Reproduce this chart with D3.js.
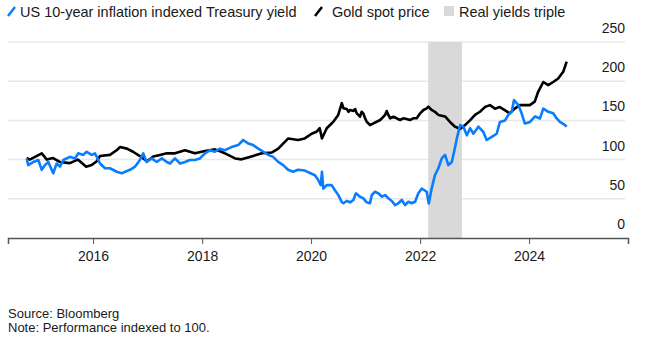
<!DOCTYPE html>
<html>
<head>
  <meta charset="utf-8">
  <title>Gold vs real yields</title>
  <script type="text/javascript" src="https://cdn.jsdelivr.net/npm/d3@7"></script>
  <style type="text/css">
    body {
      margin: 0px;
      background: #fff;
      font-family: "Liberation Sans", Arial, sans-serif;
    }
  </style>
</head>
<body>
  <svg width="652" height="345"></svg>
  <script type="text/javascript">
    // US 10-year inflation indexed Treasury yield, indexed to 100
    var yieldDates = ["2014-10-13","2014-10-24","2014-11-27","2014-12-30","2015-01-22","2015-02-13","2015-03-07","2015-04-09","2015-05-02","2015-05-24","2015-06-16","2015-07-30","2015-09-02","2015-09-24","2015-10-27","2015-11-19","2015-12-22","2016-01-14","2016-02-17","2016-03-21","2016-04-23","2016-06-08","2016-07-11","2016-08-03","2016-09-05","2016-10-08","2016-11-10","2016-12-02","2016-12-25","2017-01-28","2017-03-03","2017-04-06","2017-05-09","2017-05-31","2017-07-03","2017-08-06","2017-09-08","2017-10-11","2017-11-14","2017-12-17","2018-01-20","2018-02-23","2018-03-28","2018-04-30","2018-06-03","2018-07-17","2018-08-31","2018-10-03","2018-11-06","2018-12-09","2019-01-12","2019-02-15","2019-03-20","2019-04-22","2019-05-26","2019-06-28","2019-07-31","2019-09-03","2019-10-06","2019-11-20","2020-01-05","2020-01-27","2020-02-18","2020-03-06","2020-03-14","2020-03-23","2020-04-15","2020-05-18","2020-06-09","2020-07-01","2020-07-24",
      "2020-08-05","2020-08-27","2020-09-19","2020-10-11","2020-10-22","2020-10-28","2020-11-24","2020-12-16","2021-01-08","2021-01-30","2021-02-11","2021-03-05","2021-03-27","2021-04-20","2021-05-11","2021-06-02","2021-06-25","2021-07-17","2021-08-08","2021-08-31","2021-09-22","2021-10-14","2021-11-05","2021-11-28","2021-12-20",
      "2022-01-12","2022-02-14","2022-02-28","2022-03-19","2022-04-10","2022-05-03","2022-05-26","2022-06-17","2022-07-09","2022-08-01","2022-08-12","2022-09-04","2022-09-26","2022-10-18","2022-11-10","2022-12-02","2022-12-24","2023-01-26","2023-02-28","2023-03-23","2023-04-26","2023-05-29","2023-06-20","2023-07-24","2023-08-15","2023-09-07","2023-09-22","2023-10-21","2023-11-12","2023-12-04","2024-01-07","2024-02-10","2024-03-14","2024-04-05","2024-05-09","2024-06-11","2024-07-04","2024-07-26","2024-08-29","2024-09-09"];
    var yieldValues = [101.5,93,97,99.5,87,93,97,82.5,95,91,99.5,103.5,101.5,108,106,110,106,108,95,89,89,84.5,82.5,84.5,87,91,99.5,108,97,101.5,97,101.5,97,95,101.5,95,97,99.5,99.5,101.5,108,112,110,114,112,116,118.5,125,120.5,118.5,114,110,106,103.5,97,93,87,84.5,87,86,82,80,74,67.5,84.5,63,67.5,67.5,61,55,46,
      44.3,47.2,45.5,48.5,54.8,57,52.7,50.6,45.5,44.3,54.8,59,57,52.7,54.8,50.6,47.2,42,44.3,48.5,42,46.3,44.3,46.3,57,
      63,59,44,63,80,89,101.5,106,93,97,106,127,144,142,131,140,133,142,135.5,125,129,133,148,150,157,161,176,169.5,159,146,148,155,152.5,165,161,159,152.5,148,144,142];

    // Gold spot price, indexed to 100
    var goldDates = ["2014-10-13","2014-11-03","2015-01-22","2015-02-25","2015-04-08","2015-05-23","2015-07-29","2015-09-21","2015-11-16","2015-12-23","2016-01-26","2016-02-17","2016-04-23","2016-06-07","2016-07-01","2016-08-15","2016-09-25","2016-11-10","2016-12-27","2017-02-07","2017-03-25","2017-05-09","2017-07-03","2017-09-08","2017-11-14","2018-01-20","2018-03-28","2018-06-03","2018-08-10","2018-09-23","2018-11-28","2019-02-05","2019-04-12","2019-05-26","2019-08-01","2019-10-06","2019-11-20","2020-01-05","2020-02-06","2020-02-28","2020-03-14","2020-04-15","2020-05-28","2020-07-01","2020-07-25",
      "2020-08-05","2020-08-27","2020-09-08","2020-09-19","2020-10-11","2020-10-22","2020-11-02","2020-11-13","2020-11-24","2020-12-05","2020-12-16","2020-12-28","2021-01-08","2021-01-30","2021-02-22","2021-03-16","2021-04-08","2021-04-20","2021-05-11","2021-05-22","2021-06-02","2021-06-14","2021-07-06","2021-07-28","2021-08-19","2021-09-10","2021-10-02","2021-10-25","2021-11-16","2021-12-09","2022-01-01","2022-01-23","2022-02-14","2022-02-25","2022-03-19","2022-04-10","2022-05-03",
      "2022-06-17","2022-07-20","2022-08-23","2022-09-25","2022-10-29","2022-12-01","2023-01-04","2023-02-06","2023-03-11","2023-04-14","2023-05-17","2023-06-19","2023-07-22","2023-08-24","2023-09-27","2023-10-30","2023-12-03","2024-01-06","2024-02-08","2024-03-02","2024-04-05","2024-05-08","2024-06-11","2024-07-14","2024-08-17","2024-09-09"];
    var goldValues = [102,100,108,100,102,97,95.5,100,91,93,98,104.5,106,112,116,114,110,104.5,98,104,106,108,108,112,108,111,113,108,101.5,100.3,104,108,109,114,127,125,127,133,135.5,140,127,140,148,157,172,
      165.4,164.5,161,163.3,162,164.5,159,157,154.7,161,159,152.7,148.3,144,146.3,148.3,150.5,152.7,157,162,157,152.7,154.7,152.7,150.5,152.7,151.8,150.5,152.7,152.7,159,163.3,165.4,167.5,163.3,161,157,
      155,148,142,139,144,150,157,161,167,169.5,165,167,163,159,165,169.5,169.5,169.5,174,186.5,199,195,199,203.5,212,225];

    // "Real yields triple" shaded period
    var shadeDates = ["2022-02-24", "2022-10-08"];

    var yTicks = [0, 50, 100, 150, 200, 250];
    var xTickYears = [2016, 2018, 2020, 2022, 2024];

    var parse = d3.timeParse("%Y-%m-%d");
    var yieldSeries = yieldDates.map(function(d, i){ return {date: parse(d), value: yieldValues[i]}; });
    var goldSeries = goldDates.map(function(d, i){ return {date: parse(d), value: goldValues[i]}; });

    var svg = d3.select("svg");
    var font = '"Liberation Sans", Arial, sans-serif';

    var x = d3.scaleTime()
      .domain([parse("2014-06-10"), parse("2025-10-25")])
      .range([8, 628]);
    var y = d3.scaleLinear().domain([0, 250]).range([238, 42]);

    // gridlines
    svg.append("g").selectAll("line")
      .data(yTicks.filter(function(t){ return t > 0; }))
      .enter().append("line")
      .attr("x1", 8).attr("x2", 625)
      .attr("y1", function(d){ return y(d); })
      .attr("y2", function(d){ return y(d); })
      .attr("stroke", "#e8e8e8")
      .attr("stroke-width", 1.5);

    // shaded period
    svg.append("rect")
      .attr("x", x(parse(shadeDates[0])))
      .attr("y", y(250))
      .attr("width", x(parse(shadeDates[1])) - x(parse(shadeDates[0])))
      .attr("height", y(0) - y(250))
      .attr("fill", "#d9d9d9");

    // y labels sit above their gridline
    svg.append("g").selectAll("text")
      .data(yTicks)
      .enter().append("text")
      .attr("x", 625)
      .attr("y", function(d){ return y(d) - 9; })
      .attr("text-anchor", "end")
      .attr("font-family", font)
      .attr("font-size", 14)
      .attr("fill", "#1a1a1a")
      .text(function(d){ return d; });

    var line = d3.line()
      .x(function(d){ return x(d.date); })
      .y(function(d){ return y(d.value); });

    svg.append("path")
      .datum(goldSeries)
      .attr("d", line)
      .attr("fill", "none")
      .attr("stroke", "#000")
      .attr("stroke-width", 2.6)
      .attr("stroke-linejoin", "round");

    svg.append("path")
      .datum(yieldSeries)
      .attr("d", line)
      .attr("fill", "none")
      .attr("stroke", "#0a7cff")
      .attr("stroke-width", 2.6)
      .attr("stroke-linejoin", "round");

    // x axis
    var xAxis = d3.axisBottom(x)
      .tickValues(xTickYears.map(function(yr){ return new Date(yr, 0, 1); }))
      .tickFormat(d3.timeFormat("%Y"))
      .tickSize(6)
      .tickPadding(7);

    var gx = svg.append("g")
      .attr("transform", "translate(0," + y(0) + ")")
      .call(xAxis);
    gx.select(".domain").attr("stroke", "#555").attr("stroke-width", 1.5);
    gx.selectAll(".tick line").attr("stroke", "#555").attr("stroke-width", 1);
    gx.selectAll(".tick text")
      .attr("font-family", font)
      .attr("font-size", 14)
      .attr("fill", "#1a1a1a");

    // legend
    var legend = svg.append("g").attr("font-family", font).attr("font-size", 14.5).attr("fill", "#1a1a1a");
    legend.append("line").attr("x1", 8).attr("y1", 16).attr("x2", 15).attr("y2", 7)
      .attr("stroke", "#0a7cff").attr("stroke-width", 2.5);
    legend.append("text").attr("x", 20).attr("y", 17).text("US 10-year inflation indexed Treasury yield");
    legend.append("line").attr("x1", 315).attr("y1", 16).attr("x2", 322).attr("y2", 7)
      .attr("stroke", "#000").attr("stroke-width", 2.5);
    legend.append("text").attr("x", 332).attr("y", 17).text("Gold spot price");
    legend.append("rect").attr("x", 444).attr("y", 6).attr("width", 10).attr("height", 10)
      .attr("fill", "#d9d9d9");
    legend.append("text").attr("x", 459).attr("y", 17).text("Real yields triple");

    // footnotes
    var notes = svg.append("g").attr("font-family", font).attr("font-size", 13).attr("fill", "#1a1a1a");
    notes.append("text").attr("x", 8).attr("y", 318).text("Source: Bloomberg");
    notes.append("text").attr("x", 8).attr("y", 332).text("Note: Performance indexed to 100.");
  </script>
</body>
</html>
